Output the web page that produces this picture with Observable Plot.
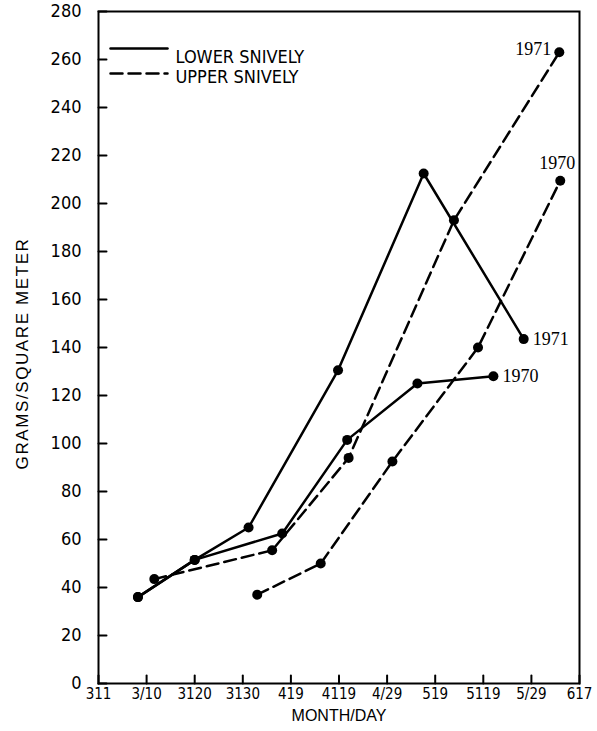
<!DOCTYPE html>
<html><head><meta charset="utf-8">
<script src="https://cdn.jsdelivr.net/npm/d3@7"></script>
<script src="https://cdn.jsdelivr.net/npm/@observablehq/plot@0.6"></script>
<style>body{margin:0;background:#fff}</style>
</head><body><div id="chart"></div>
<script>
// Tick labels (as printed) at evenly spaced positions 0..10
const xTickLabels = ["311","3/10","3120","3130","419","4119","4/29","519","5119","5/29","617"];
const yTicks = [0,20,40,60,80,100,120,140,160,180,200,220,240,260,280];

// x in tick-interval units (0 = first tick), y in grams/square meter
const lower1971X = [0.82, 2.00, 3.12, 4.98, 6.76, 8.84];
const lower1971Y = [36, 51.5, 65, 130.5, 212.5, 143.5];
const lower1970X = [0.82, 2.00, 3.82, 5.17, 6.63, 8.21];
const lower1970Y = [36, 51.5, 62.5, 101.5, 125, 128];
const upper1971X = [1.16, 3.61, 5.20, 7.39, 9.58];
const upper1971Y = [43.5, 55.5, 94, 193, 263];
const upper1970X = [3.30, 4.62, 6.11, 7.89, 9.60];
const upper1970Y = [37, 50, 92.5, 140, 209.5];

const seriesNames = ["LOWER SNIVELY", "UPPER SNIVELY"];
const yTitle = "GRAMS/SQUARE METER";
const xTitle = "MONTH/DAY";

const series = [
  {key: "L1971", site: seriesNames[0], year: "1971", xs: lower1971X, ys: lower1971Y},
  {key: "L1970", site: seriesNames[0], year: "1970", xs: lower1970X, ys: lower1970Y},
  {key: "U1971", site: seriesNames[1], year: "1971", xs: upper1971X, ys: upper1971Y},
  {key: "U1970", site: seriesNames[1], year: "1970", xs: upper1970X, ys: upper1970Y}
];
const rows = series.flatMap(s => s.xs.map((x, i) => ({key: s.key, site: s.site, year: s.year, x, y: s.ys[i], last: i === s.xs.length - 1})));
const solidRows = rows.filter(d => d.site === seriesNames[0]);
const dashedRows = rows.filter(d => d.site === seriesNames[1]);
const ends = rows.filter(d => d.last);

const sans = '"Liberation Sans Narrow","DejaVu Sans Condensed","Roboto Condensed",sans-serif';
const wide = '"Liberation Sans","Arial",sans-serif';
const serif = '"Liberation Serif","DejaVu Serif",serif';
const lineShape = {draw(ctx, l) { ctx.moveTo(0, 0); ctx.lineTo(0, -l); }};
const DASH = "12,6";

const chart = Plot.plot({
  width: 597,
  height: 731,
  marginLeft: 98,
  marginRight: 18,
  marginTop: 11,
  marginBottom: 48,
  style: {fontFamily: sans, background: "#fff", color: "#000"},
  x: {domain: [0, 10]},
  y: {domain: [0, 280]},
  marks: [
    Plot.frame({stroke: "#000", strokeWidth: 2}),
    Plot.axisY(yTicks, {tickSize: 0, tickPadding: 17, fontSize: 18, label: null}),
    Plot.axisX(d3.range(xTickLabels.length), {tickSize: 0, tickPadding: 5, fontSize: 15, label: null, tickFormat: i => xTickLabels[i]}),
    Plot.vector(yTicks, {y: d => d, frameAnchor: "left", rotate: 90, length: 8, anchor: "start", shape: lineShape, stroke: "#000", strokeWidth: 2}),
    Plot.vector(d3.range(xTickLabels.length), {x: d => d, frameAnchor: "bottom", rotate: 0, length: 8, anchor: "start", shape: lineShape, stroke: "#000", strokeWidth: 2}),
    Plot.text([yTitle], {frameAnchor: "left", textAnchor: "middle", rotate: -90, dx: -76, dy: 6, fontSize: 17, fontFamily: wide, fill: "#000"}),
    Plot.text([xTitle], {frameAnchor: "bottom", dy: 37, fontSize: 16, fontFamily: wide, fill: "#000"}),
    // legend
    Plot.vector([0], {frameAnchor: "top-left", dx: 12, dy: 37, rotate: 90, length: 57, anchor: "start", shape: lineShape, stroke: "#000", strokeWidth: 2.5}),
    Plot.vector([0], {frameAnchor: "top-left", dx: 12, dy: 62, rotate: 90, length: 57, anchor: "start", shape: lineShape, stroke: "#000", strokeWidth: 2.5, strokeDasharray: DASH}),
    Plot.text([seriesNames[0]], {frameAnchor: "top-left", dx: 77, dy: 39, textAnchor: "start", fontSize: 18, fill: "#000"}),
    Plot.text([seriesNames[1]], {frameAnchor: "top-left", dx: 77, dy: 59, textAnchor: "start", fontSize: 18, fill: "#000"}),
    // data
    Plot.line(solidRows, {x: "x", y: "y", z: "key", stroke: "#000", strokeWidth: 2.5}),
    Plot.line(dashedRows, {x: "x", y: "y", z: "key", stroke: "#000", strokeWidth: 2.5, strokeDasharray: DASH}),
    Plot.dot(rows, {x: "x", y: "y", r: 5, fill: "#000"}),
    // end labels
    Plot.text(ends.filter(d => d.key === "L1971" || d.key === "L1970"), {x: "x", y: "y", text: "year", dx: 9, textAnchor: "start", fontFamily: serif, fontSize: 18, fill: "#000"}),
    Plot.text(ends.filter(d => d.key === "U1971"), {x: "x", y: "y", text: "year", dx: -8, dy: -3, textAnchor: "end", fontFamily: serif, fontSize: 18, fill: "#000"}),
    Plot.text(ends.filter(d => d.key === "U1970"), {x: "x", y: "y", text: "year", dx: -3, dy: -17, textAnchor: "middle", fontFamily: serif, fontSize: 18, fill: "#000"})
  ]
});
d3.select(chart).selectAll("text")
  .filter(function() { return this.textContent === yTitle; })
  .style("letter-spacing", "1.6px");
document.getElementById("chart").appendChild(chart);
</script>
</body></html>
